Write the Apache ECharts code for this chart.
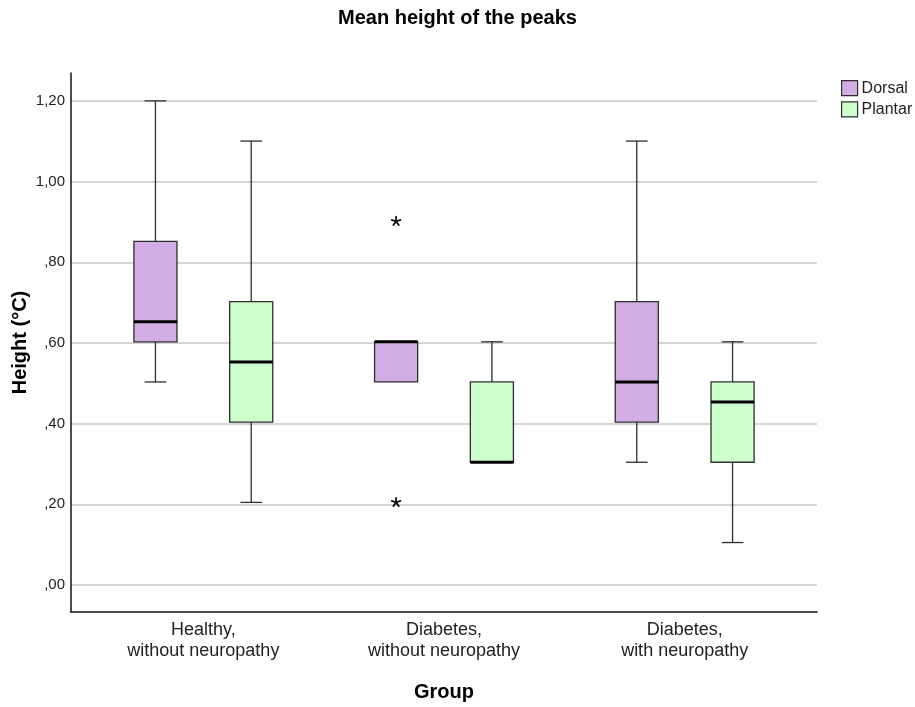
<!DOCTYPE html>
<html>
<head>
<meta charset="utf-8">
<title>Mean height of the peaks</title>
<script src="https://cdn.jsdelivr.net/npm/echarts@6/dist/echarts.min.js"></script>
<style>
  html, body { margin: 0; padding: 0; background: #fff; }
  #chart { width: 915px; height: 707px; }
</style>
</head>
<body>
<div id="chart"></div>
<script>
// Groups on the x axis
const groups = ['Healthy,\nwithout neuropathy', 'Diabetes,\nwithout neuropathy', 'Diabetes,\nwith neuropathy'];

// Five-number summaries per group: [min, Q1, median, Q3, max]
const dorsalStats = [
  [0.50, 0.60, 0.65, 0.85, 1.20],
  [0.50, 0.50, 0.60, 0.60, 0.60],
  [0.30, 0.40, 0.50, 0.70, 1.10]
];
const plantarStats = [
  [0.20, 0.40, 0.55, 0.70, 1.10],
  [0.30, 0.30, 0.30, 0.50, 0.60],
  [0.10, 0.30, 0.45, 0.50, 0.60]
];

// Extreme values (group index, value)
const dorsalExtremes = [[1, 0.90], [1, 0.20]];

// Y axis ticks
const yTickValues = [0, 0.2, 0.4, 0.6, 0.8, 1.0, 1.2];
const yTickLabels = [',00', ',20', ',40', ',60', ',80', '1,00', '1,20'];

const seriesNames = ['Dorsal', 'Plantar'];
const seriesColors = ['#d2ade3', '#ccffcc'];

const FONT = '"Liberation Sans", Arial, Helvetica, sans-serif';
const EDGE = '#2e2e2e';

// Data extent of the frame (axis lines run a little past the tick range)
const frameMin = -0.068;
const frameMax = 1.2695;

function boxRenderer(side) {
  return function (params, api) {
    const idx = api.value(0);
    const band = api.size([1, 0])[0];
    const cx = api.coord([idx, 0])[0] + side * band * 0.199;
    const bw = band * 0.179;
    const yOf = (d) => api.coord([idx, api.value(d)])[1];
    const yLo = yOf(1), yQ1 = yOf(2), yMed = yOf(3), yQ3 = yOf(4), yHi = yOf(5);
    const lineStyle = { stroke: EDGE, lineWidth: 1.3 };
    const children = [];
    if (yLo > yQ1 + 0.5) {
      children.push({ type: 'line', shape: { x1: cx, y1: yQ1, x2: cx, y2: yLo }, style: lineStyle });
      children.push({ type: 'line', shape: { x1: cx - bw / 4, y1: yLo, x2: cx + bw / 4, y2: yLo }, style: lineStyle });
    }
    if (yHi < yQ3 - 0.5) {
      children.push({ type: 'line', shape: { x1: cx, y1: yQ3, x2: cx, y2: yHi }, style: lineStyle });
      children.push({ type: 'line', shape: { x1: cx - bw / 4, y1: yHi, x2: cx + bw / 4, y2: yHi }, style: lineStyle });
    }
    children.push({
      type: 'rect',
      shape: { x: cx - bw / 2, y: yQ3, width: bw, height: yQ1 - yQ3 },
      style: { fill: api.visual('color'), stroke: EDGE, lineWidth: 1.3 }
    });
    children.push({
      type: 'line',
      shape: { x1: cx - bw / 2, y1: yMed, x2: cx + bw / 2, y2: yMed },
      style: { stroke: '#000', lineWidth: 3 }
    });
    return { type: 'group', children };
  };
}

function extremeRenderer(side) {
  return function (params, api) {
    const idx = api.value(0);
    const band = api.size([1, 0])[0];
    const p = api.coord([idx, api.value(1)]);
    const cx = p[0] + side * band * 0.199;
    const cy = p[1];
    const r = 4.6;
    const children = [];
    for (let k = 0; k < 5; k++) {
      const a = -Math.PI / 2 + k * 2 * Math.PI / 5;
      children.push({
        type: 'line',
        shape: { x1: cx, y1: cy, x2: cx + r * Math.cos(a), y2: cy + r * Math.sin(a) },
        style: { stroke: '#111', lineWidth: 1.8, lineCap: 'round' }
      });
    }
    return { type: 'group', children };
  };
}

const chart = echarts.init(document.getElementById('chart'), null, { renderer: 'canvas' });

const option = {
  backgroundColor: '#ffffff',
  animation: false,
  textStyle: { fontFamily: FONT },
  title: {
    text: 'Mean height of the peaks',
    left: 'center',
    top: 3,
    textStyle: { fontFamily: FONT, fontSize: 20, fontWeight: 'bold', color: '#000' }
  },
  legend: {
    orient: 'vertical',
    left: 841,
    top: 80,
    padding: 0,
    icon: 'rect',
    itemWidth: 16,
    itemHeight: 15,
    itemGap: 5,
    textStyle: { fontFamily: FONT, fontSize: 16, color: '#222', padding: [0, 0, 0, -1] },
    data: seriesNames.map((n, i) => ({
      name: n,
      itemStyle: { color: seriesColors[i], borderColor: EDGE, borderWidth: 1.2 }
    }))
  },
  grid: [
    // frame: axis lines
    { left: 71, top: 73, width: 746, height: 539 },
    // tick labels and gridlines
    { left: 71, top: 101, width: 746, height: 484 },
    // boxes and group labels
    { left: 83, top: 73, width: 722, height: 539 }
  ],
  xAxis: [
    {
      gridIndex: 0, type: 'value', min: 0, max: 1,
      axisLine: { show: true, onZero: false, lineStyle: { color: '#111', width: 1.5 } },
      axisTick: { show: false }, axisLabel: { show: false }, splitLine: { show: false }
    },
    {
      gridIndex: 1, type: 'value', min: 0, max: 1, show: false
    },
    {
      gridIndex: 2, type: 'category', data: groups,
      axisLine: { show: false }, axisTick: { show: false }, splitLine: { show: false },
      axisLabel: { fontFamily: FONT, fontSize: 18, lineHeight: 21, color: '#222', margin: 10, interval: 0 },
      name: 'Group', nameLocation: 'middle', nameGap: 72,
      nameTextStyle: { fontFamily: FONT, fontSize: 20, fontWeight: 'bold', color: '#000' }
    }
  ],
  yAxis: [
    {
      gridIndex: 0, type: 'value', min: frameMin, max: frameMax,
      axisLine: { show: true, onZero: false, lineStyle: { color: '#111', width: 1.5 } },
      axisTick: { show: false }, axisLabel: { show: false }, splitLine: { show: false },
      name: 'Height (°C)', nameLocation: 'middle', nameGap: 41, nameRotate: 90,
      nameTextStyle: { fontFamily: FONT, fontSize: 20, fontWeight: 'bold', color: '#000' }
    },
    {
      gridIndex: 1, type: 'value', min: yTickValues[0], max: yTickValues[yTickValues.length - 1], interval: 0.2,
      axisLine: { show: false }, axisTick: { show: false },
      axisLabel: {
        fontFamily: FONT, fontSize: 15, color: '#222', margin: 6,
        formatter: (v) => yTickLabels[Math.round(v / 0.2)] || ''
      },
      splitLine: { show: true, lineStyle: { color: '#c6c6c6', width: 1.5 } }
    },
    {
      gridIndex: 2, type: 'value', min: frameMin, max: frameMax, show: false
    }
  ],
  series: [
    {
      name: seriesNames[0], type: 'custom', xAxisIndex: 2, yAxisIndex: 2,
      itemStyle: { color: seriesColors[0] },
      encode: { x: 0, y: [1, 2, 3, 4, 5] },
      renderItem: boxRenderer(-1),
      data: dorsalStats.map((s, i) => [i].concat(s))
    },
    {
      name: seriesNames[1], type: 'custom', xAxisIndex: 2, yAxisIndex: 2,
      itemStyle: { color: seriesColors[1] },
      encode: { x: 0, y: [1, 2, 3, 4, 5] },
      renderItem: boxRenderer(1),
      data: plantarStats.map((s, i) => [i].concat(s))
    },
    {
      name: seriesNames[0], type: 'custom', xAxisIndex: 2, yAxisIndex: 2,
      itemStyle: { color: seriesColors[0] },
      encode: { x: 0, y: 1 },
      renderItem: extremeRenderer(-1),
      data: dorsalExtremes
    }
  ]
};

chart.setOption(option);
</script>
</body>
</html>
